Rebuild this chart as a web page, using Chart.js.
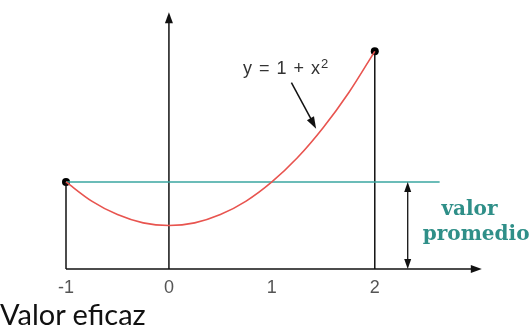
<!DOCTYPE html>
<html>
<head>
<meta charset="utf-8">
<script src="https://cdn.jsdelivr.net/npm/chart.js@4"></script>
<style>
  html, body { margin: 0; padding: 0; background: #fff; }
  #wrap { position: relative; width: 531px; height: 331px; }
  #caption { position: absolute; left: 0; top: 299px; font: 29px Lato, sans-serif; color: #111; line-height: 1; }
</style>
</head>
<body>
<div id="wrap">
  <canvas id="chart" width="531" height="331"></canvas>
  <div id="caption">Valor eficaz</div>
</div>
<script>
// curve y = 1 + x^2
const curveX = [-1, -0.75, -0.5, -0.25, 0, 0.25, 0.5, 0.75, 1, 1.25, 1.5, 1.75, 2];
const curveY = [2, 1.56, 1.25, 1.06, 1, 1.06, 1.25, 1.56, 2, 2.56, 3.25, 4.06, 5];
const xTicks = [-1, 0, 1, 2];
const avgValue = 2;
const avgLineX = [-1, 2.63];
const endpointX = [-1, 2];
const endpointY = [2, 5];
const xRange = [-1, 3.1];
const yRange = [0, 5.95];

// annotation anchors (data units)
const xAxisEnd = 3.04, yAxisEnd = 5.9;
const avgArrowX = 2.32;
const labelPos = { x: 0.72, y: 4.48 };
const labelArrow = { x1: 1.19, y1: 4.28, x2: 1.43, y2: 3.22 };

function arrowHead(ctx, x1, y1, x2, y2, len, half) {
  const a = Math.atan2(y2 - y1, x2 - x1);
  ctx.beginPath();
  ctx.moveTo(x2, y2);
  ctx.lineTo(x2 - len * Math.cos(a) + half * Math.sin(a), y2 - len * Math.sin(a) - half * Math.cos(a));
  ctx.lineTo(x2 - len * Math.cos(a) - half * Math.sin(a), y2 - len * Math.sin(a) + half * Math.cos(a));
  ctx.closePath();
  ctx.fill();
}

const axesPlugin = {
  id: 'axes',
  beforeDatasetsDraw(chart) {
    const { ctx, scales: { x, y } } = chart;
    ctx.save();
    ctx.strokeStyle = '#111';
    ctx.fillStyle = '#111';
    ctx.lineWidth = 1.5;
    const y0 = y.getPixelForValue(0), x0 = x.getPixelForValue(0);
    // x axis
    const xs = x.getPixelForValue(-1), xe = x.getPixelForValue(xAxisEnd);
    ctx.beginPath(); ctx.moveTo(xs, y0); ctx.lineTo(xe - 6, y0); ctx.stroke();
    arrowHead(ctx, xs, y0, xe, y0, 11, 4);
    // y axis
    const ye = y.getPixelForValue(yAxisEnd);
    ctx.beginPath(); ctx.moveTo(x0, y0); ctx.lineTo(x0, ye + 6); ctx.stroke();
    arrowHead(ctx, x0, y0, x0, ye, 11, 4);
    ctx.restore();
  },
  afterDatasetsDraw(chart) {
    const { ctx, scales: { x, y } } = chart;
    ctx.save();
    ctx.strokeStyle = '#111';
    ctx.fillStyle = '#111';
    ctx.lineWidth = 1.3;
    // double arrow for the average
    const ax = x.getPixelForValue(avgArrowX);
    const a0 = y.getPixelForValue(0), a1 = y.getPixelForValue(avgValue);
    ctx.beginPath(); ctx.moveTo(ax, a0 - 6); ctx.lineTo(ax, a1 + 6); ctx.stroke();
    arrowHead(ctx, ax, a1, ax, a0, 10, 3.5);
    arrowHead(ctx, ax, a0, ax, a1, 10, 3.5);
    // label arrow
    const lx1 = x.getPixelForValue(labelArrow.x1), ly1 = y.getPixelForValue(labelArrow.y1);
    const lx2 = x.getPixelForValue(labelArrow.x2), ly2 = y.getPixelForValue(labelArrow.y2);
    ctx.lineWidth = 1.5;
    ctx.beginPath(); ctx.moveTo(lx1, ly1); ctx.lineTo(lx2 - 3, ly2 - 6); ctx.stroke();
    arrowHead(ctx, lx1, ly1, lx2, ly2, 12, 4);
    // formula label
    ctx.fillStyle = '#333';
    ctx.textBaseline = 'alphabetic';
    ctx.font = '18px "Liberation Sans", Arial, sans-serif';
    ctx.wordSpacing = '2px';
    const tx = x.getPixelForValue(labelPos.x), ty = y.getPixelForValue(labelPos.y);
    const main = 'y = 1 + x';
    ctx.fillText(main, tx, ty);
    const w = ctx.measureText(main).width;
    ctx.wordSpacing = '0px';
    ctx.font = '13px "Liberation Sans", Arial, sans-serif';
    ctx.fillText('2', tx + w + 1, ty - 6);
    // valor promedio
    ctx.fillStyle = '#2f8f88';
    ctx.textAlign = 'center';
    ctx.font = 'bold 20px "DejaVu Serif", serif';
    ctx.fillText('valor', x.getPixelForValue(2.92), y.getPixelForValue(1.24));
    ctx.fillText('promedio', x.getPixelForValue(2.985), y.getPixelForValue(0.667));
    ctx.restore();
  }
};

const pts = (xs, ys) => xs.map((v, i) => ({ x: v, y: ys[i] }));

new Chart(document.getElementById('chart'), {
  type: 'scatter',
  data: {
    datasets: [
      { data: pts(curveX, curveY), showLine: true, borderColor: '#e8544f', borderWidth: 1.6,
        pointRadius: 0, cubicInterpolationMode: 'monotone' },
      { data: pts(avgLineX, [avgValue, avgValue]), showLine: true, borderColor: '#3aa6a0',
        borderWidth: 1.5, pointRadius: 0 },
      { data: pts([endpointX[0], endpointX[0]], [0, endpointY[0]]), showLine: true,
        borderColor: '#111', borderWidth: 1.5, pointRadius: 0 },
      { data: pts([endpointX[1], endpointX[1]], [0, endpointY[1]]), showLine: true,
        borderColor: '#111', borderWidth: 1.5, pointRadius: 0 },
      { data: pts(endpointX, endpointY), pointRadius: 4, backgroundColor: '#000',
        borderColor: '#000', borderWidth: 0 }
    ]
  },
  options: {
    responsive: false,
    animation: false,
    devicePixelRatio: 1,
    clip: false,
    layout: { padding: { left: 66, right: 43, top: 10, bottom: 0 } },
    plugins: { legend: { display: false }, tooltip: { enabled: false } },
    scales: {
      x: {
        type: 'linear', min: xRange[0], max: xRange[1],
        grid: { display: false }, border: { display: false },
        afterBuildTicks: s => { s.ticks = xTicks.map(v => ({ value: v })); },
        afterFit: s => { s.height = 62; },
        ticks: { color: '#555', padding: 0, font: { family: '"Liberation Sans", Arial, sans-serif', size: 18 } }
      },
      y: { display: false, min: yRange[0], max: yRange[1] }
    }
  },
  plugins: [axesPlugin]
});
</script>
</body>
</html>
